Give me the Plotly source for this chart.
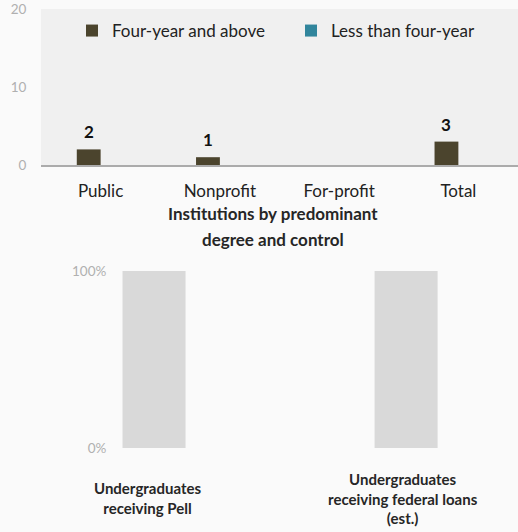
import plotly.graph_objects as go

# ---- data ----
categories = ["Public", "Nonprofit", "For-profit", "Total"]
four_year = [2, 1, 0, 3]
less_than_four = [0, 0, 0, 0]
four_year_labels = ["2", "1", "", "3"]
top_ticks = [0, 10, 20]

aid_categories = ["Pell", "Loans"]
aid_values = [100, 100]
aid_labels = ["Undergraduates<br>receiving Pell",
              "Undergraduates<br>receiving federal loans<br>(est.)"]
aid_ticks = [0, 100]
aid_ticktext = ["0%", "100%"]

x_title_lines = ["Institutions by predominant", "degree and control"]

W, H = 518, 532
FONT = "Lato, 'Open Sans', sans-serif"
PAGE = "#fafafa"

def py(px):
    return 1 - px / H

fig = go.Figure()

fig.add_trace(go.Bar(
    x=categories, y=four_year, name="Four-year and above",
    marker=dict(color="#4b442d", line=dict(width=0)),
    xaxis="x", yaxis="y", hoverinfo="skip"))
fig.add_trace(go.Bar(
    x=categories, y=less_than_four, name="Less than four-year",
    marker=dict(color="#31859c", line=dict(width=0)),
    xaxis="x", yaxis="y", hoverinfo="skip"))

fig.add_trace(go.Bar(
    x=aid_categories, y=aid_values, width=0.25, showlegend=False,
    marker=dict(color="#d9d9d9", line=dict(width=0)),
    xaxis="x2", yaxis="y2", hoverinfo="skip"))

annotations = []
for c, v, t in zip(categories, four_year, four_year_labels):
    if t:
        annotations.append(dict(x=c, y=v, xref="x", yref="y", text="<b>%s</b>" % t,
                                showarrow=False, yanchor="bottom", xshift=-12, yshift=5,
                                font=dict(family=FONT, size=17, color="#111111")))

title_y = [213, 239]
for line, yp in zip(x_title_lines, title_y):
    annotations.append(dict(x=0.527, y=py(yp), xref="paper", yref="paper",
                            text="<b>%s</b>" % line, showarrow=False,
                            xanchor="center", yanchor="middle",
                            font=dict(family=FONT, size=17, color="#262626")))

for c, lab, xs in zip(aid_categories, aid_labels, [-7, -3]):
    annotations.append(dict(x=c, y=py(498), xref="x2", yref="paper", text="<b>%s</b>" % lab,
                            showarrow=False, xanchor="center", yanchor="middle", xshift=xs,
                            align="center",
                            font=dict(family=FONT, size=15, color="#262626")))

fig.update_layout(
    width=W, height=H,
    margin=dict(l=0, r=0, t=0, b=0, pad=0, autoexpand=False),
    paper_bgcolor=PAGE, plot_bgcolor=PAGE,
    font=dict(family=FONT, color="#222222"),
    barmode="group", bargap=0.6, bargroupgap=0,
    showlegend=True,
    legend=dict(orientation="h", x=72 / W, xanchor="left", y=py(31), yanchor="middle",
                bgcolor="rgba(0,0,0,0)", font=dict(family=FONT, size=17, color="#222222"),
                entrywidth=174, entrywidthmode="pixels", traceorder="normal"),
    xaxis=dict(domain=[41 / W, 1], showgrid=False, zeroline=False,
               showline=True, linecolor="#ababab", linewidth=2,
               ticks="outside", ticklen=10, tickcolor="rgba(0,0,0,0)",
               tickfont=dict(family=FONT, size=17, color="#222222"),
               fixedrange=True),
    yaxis=dict(domain=[py(165), py(9)], range=[0, 20], tickvals=top_ticks,
               showgrid=False, zeroline=False, showline=False,
               ticks="outside", ticklen=11, tickcolor="rgba(0,0,0,0)",
               tickfont=dict(family=FONT, size=13.5, color="#b0b0b0"),
               fixedrange=True),
    xaxis2=dict(domain=[117 / W, 1], range=[-0.147, 1.444], anchor="y2",
                showgrid=False, zeroline=False, showline=False,
                showticklabels=False, ticks="", fixedrange=True),
    yaxis2=dict(domain=[py(448), py(271)], range=[0, 100], anchor="x2",
                tickvals=aid_ticks, ticktext=aid_ticktext,
                showgrid=False, zeroline=False, showline=False,
                ticks="outside", ticklen=7, tickcolor="rgba(0,0,0,0)",
                tickfont=dict(family=FONT, size=13.5, color="#b0b0b0"),
                fixedrange=True),
    shapes=[dict(type="rect", xref="x domain", yref="y domain", x0=0, x1=1, y0=0, y1=1,
                 fillcolor="#f0f0f0", line=dict(width=0), layer="below")],
    annotations=annotations,
)

fig.write_html("out.html", config={"displayModeBar": False},
               post_script="document.body.style.margin='0';document.body.style.background='#fafafa';")
